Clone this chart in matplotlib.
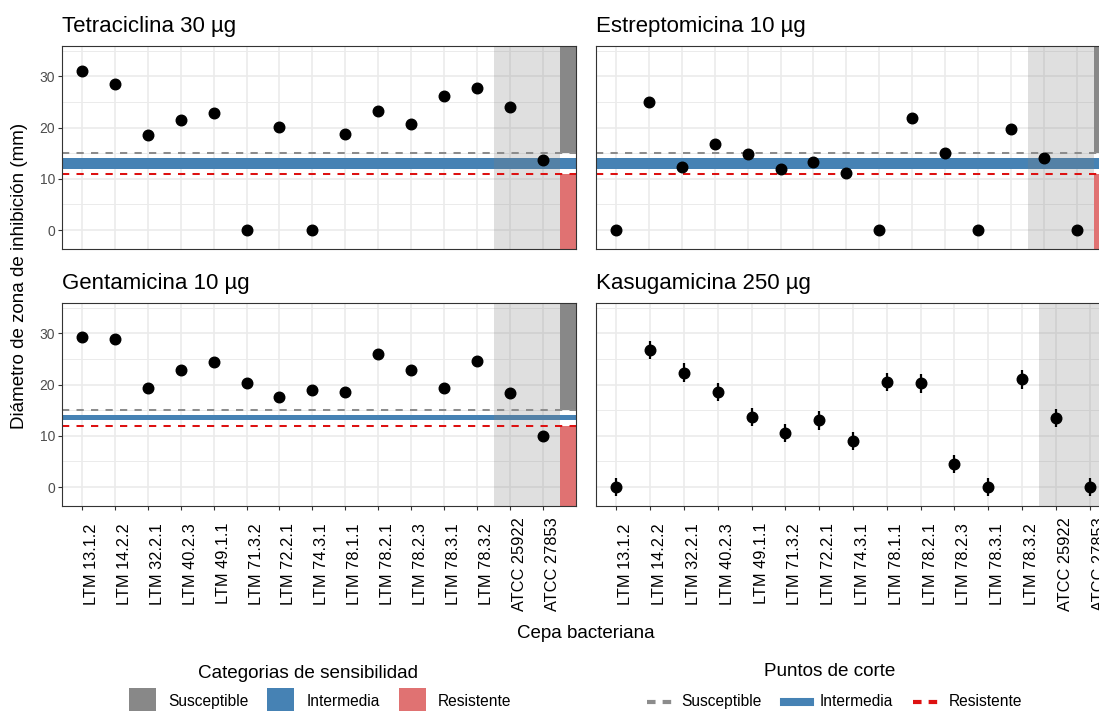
import matplotlib
matplotlib.use('Agg')
import matplotlib.pyplot as plt
import matplotlib.transforms as mtransforms
from matplotlib.patches import Rectangle
from matplotlib.lines import Line2D
import numpy as np

plt.rcParams['font.family'] = ['Liberation Sans', 'DejaVu Sans']

# Cepas (eje x)
cepas = ['LTM 13.1.2', 'LTM 14.2.2', 'LTM 32.2.1', 'LTM 40.2.3', 'LTM 49.1.1',
         'LTM 71.3.2', 'LTM 72.2.1', 'LTM 74.3.1', 'LTM 78.1.1', 'LTM 78.2.1',
         'LTM 78.2.3', 'LTM 78.3.1', 'LTM 78.3.2', 'ATCC 25922', 'ATCC 27853']

# Diametro de zona de inhibicion (mm)
tetraciclina = [31.0, 28.5, 18.5, 21.4, 22.9, 0.0, 20.1, 0.0, 18.7, 23.2, 20.7, 26.1, 27.7, 24.0, 13.6]
estreptomicina = [0.0, 24.9, 12.2, 16.7, 14.9, 12.0, 13.2, 11.2, 0.0, 21.9, 15.0, 0.0, 19.7, 14.0, 0.0]
gentamicina = [29.2, 28.8, 19.3, 22.9, 24.4, 20.3, 17.5, 18.9, 18.5, 25.9, 22.9, 19.4, 24.5, 18.3, 10.0]
kasugamicina = [0.0, 26.7, 22.3, 18.5, 13.7, 10.5, 13.0, 9.0, 20.5, 20.2, 4.5, 0.0, 21.0, 13.5, 0.0]
kasugamicina_sd = [1.8, 1.8, 1.8, 1.8, 1.8, 1.8, 1.8, 1.8, 1.8, 1.8, 1.8, 1.8, 1.8, 1.8, 1.8]

# Puntos de corte: susceptible >=, intermedia (min, max), resistente <=
corte_tetraciclina = (15, (12, 14), 11)
corte_estreptomicina = (15, (12, 14), 11)
corte_gentamicina = (15, (13, 14), 12)

categorias = ['Susceptible', 'Intermedia', 'Resistente']
col_cat = ['#888888', '#4682B4', '#E07272']
col_gris = '#8C8C8C'
col_rojo = '#DD1111'

paneles = [
    ('Tetraciclina 30 µg', tetraciclina, None, corte_tetraciclina),
    ('Estreptomicina 10 µg', estreptomicina, None, corte_estreptomicina),
    ('Gentamicina 10 µg', gentamicina, None, corte_gentamicina),
    ('Kasugamicina 250 µg', kasugamicina, kasugamicina_sd, None),
]

W, H = 1099, 711
fig = plt.figure(figsize=(W / 100, H / 100), dpi=100)


def px_axes(x0, y0, w, h):
    return fig.add_axes([x0 / W, 1 - (y0 + h) / H, w / W, h / H])


cajas = [(62, 46, 514, 203), (596, 46, 514, 203), (62, 303, 514, 203), (596, 303, 514, 203)]

x = np.arange(1, len(cepas) + 1)
control = [i + 1 for i, c in enumerate(cepas) if c.startswith('ATCC')]

for k, (titulo, vals, sd, corte) in enumerate(paneles):
    ax = px_axes(*cajas[k])
    fila, col = divmod(k, 2)
    xmax = 16.0 if corte else 15.6
    ax.set_xlim(0.4, xmax)
    ax.set_ylim(-3.7, 35.9)

    ax.set_yticks([0, 10, 20, 30])
    ax.set_yticks([5, 15, 25, 35], minor=True)
    ax.set_xticks(x)
    ax.grid(which='major', color='#EBEBEB', lw=1.2)
    ax.grid(which='minor', axis='y', color='#EBEBEB', lw=0.7)
    ax.set_axisbelow(True)

    # cepas control
    ax.axvspan(min(control) - 0.5, max(control) + 0.5 if corte else xmax + 1,
               color='#808080', alpha=0.25, lw=0, zorder=1.3)

    if corte:
        s, (ilo, ihi), r = corte
        ax.axhspan(ilo, ihi, color=col_cat[1], lw=0, zorder=1.1)
        x0 = max(control) + 0.5
        ax.add_patch(Rectangle((x0, s), 2, 50, color=col_cat[0], lw=0, zorder=1.4))
        ax.add_patch(Rectangle((x0, -20), 2, r + 20, color=col_cat[2], lw=0, zorder=1.4))
        ax.axhline(s, color=col_gris, lw=1.45, ls=(0, (3.6, 3.6)), zorder=2)
        ax.axhline(r, color=col_rojo, lw=1.45, ls=(0, (3.6, 3.6)), zorder=2)

    if sd is None:
        ax.plot(x, vals, 'o', color='black', ms=7.6, zorder=3)
    else:
        ax.errorbar(x, vals, yerr=sd, fmt='o', color='black', ms=7.6,
                    elinewidth=1.6, capsize=0, zorder=3)

    ax.set_title(titulo, loc='left', pad=10.2, fontsize=16)

    for sp in ax.spines.values():
        sp.set_color('#333333')
        sp.set_linewidth(0.8)
    ax.tick_params(which='minor', left=False, bottom=False)
    ax.tick_params(axis='y', length=2.7, width=0.8, color='#333333',
                   labelsize=10, labelcolor='#4D4D4D', pad=2.3)
    ax.tick_params(axis='x', length=2.7, width=0.8, color='#333333', pad=38.9)
    if col == 1:
        ax.tick_params(axis='y', left=False, labelleft=False)
    if fila == 0:
        ax.tick_params(axis='x', bottom=False, labelbottom=False)
    else:
        ax.set_xticklabels(cepas, rotation=90, ha='left', va='center',
                           fontsize=11.8, color='black')
        desplaza = mtransforms.ScaledTranslation(0.02, 0, fig.dpi_scale_trans)
        for lab in ax.get_xticklabels():
            lab.set_transform(lab.get_transform() + desplaza)

fig.text(20 / W, 1 - 276 / H, 'Diámetro de zona de inhibición (mm)', rotation=90,
         ha='center', va='center', fontsize=13.5)
fig.text(586 / W, 1 - 633 / H, 'Cepa bacteriana', ha='center', va='center', fontsize=13.5)

# Leyenda: categorias de sensibilidad
fig.text(308 / W, 1 - 673 / H, 'Categorias de sensibilidad', ha='center', va='center', fontsize=13.6)
for xk, xt, lab, c in zip([128.6, 266.5, 398.5], [168, 306.4, 438], categorias, col_cat):
    fig.add_artist(Rectangle((xk / W, 1 - 715 / H), 27 / W, 27 / H, color=c, lw=0,
                             transform=fig.transFigure))
    fig.text(xt / W, 1 - 701.5 / H, lab, va='center', fontsize=11.2)

# Leyenda: puntos de corte
fig.text(830 / W, 1 - 672 / H, 'Puntos de corte', ha='center', va='center', fontsize=13.6)
estilos = [(col_gris, 3.0, (0, (2.05, 1.7))), (col_cat[1], 5.8, '-'), (col_rojo, 3.0, (0, (2.05, 1.7)))]
for xk, xt, lab, (c, lw, ls) in zip([646.5, 784, 912.5], [681.7, 819.3, 948.3], categorias, estilos):
    yk = 1 - 701.7 / H
    fig.add_artist(Line2D([xk / W, (xk + 26) / W], [yk, yk], color=c, lw=lw, ls=ls,
                          transform=fig.transFigure))
    fig.text(xt / W, yk, lab, va='center', fontsize=11.2)

fig.savefig('out.png', dpi=100)
